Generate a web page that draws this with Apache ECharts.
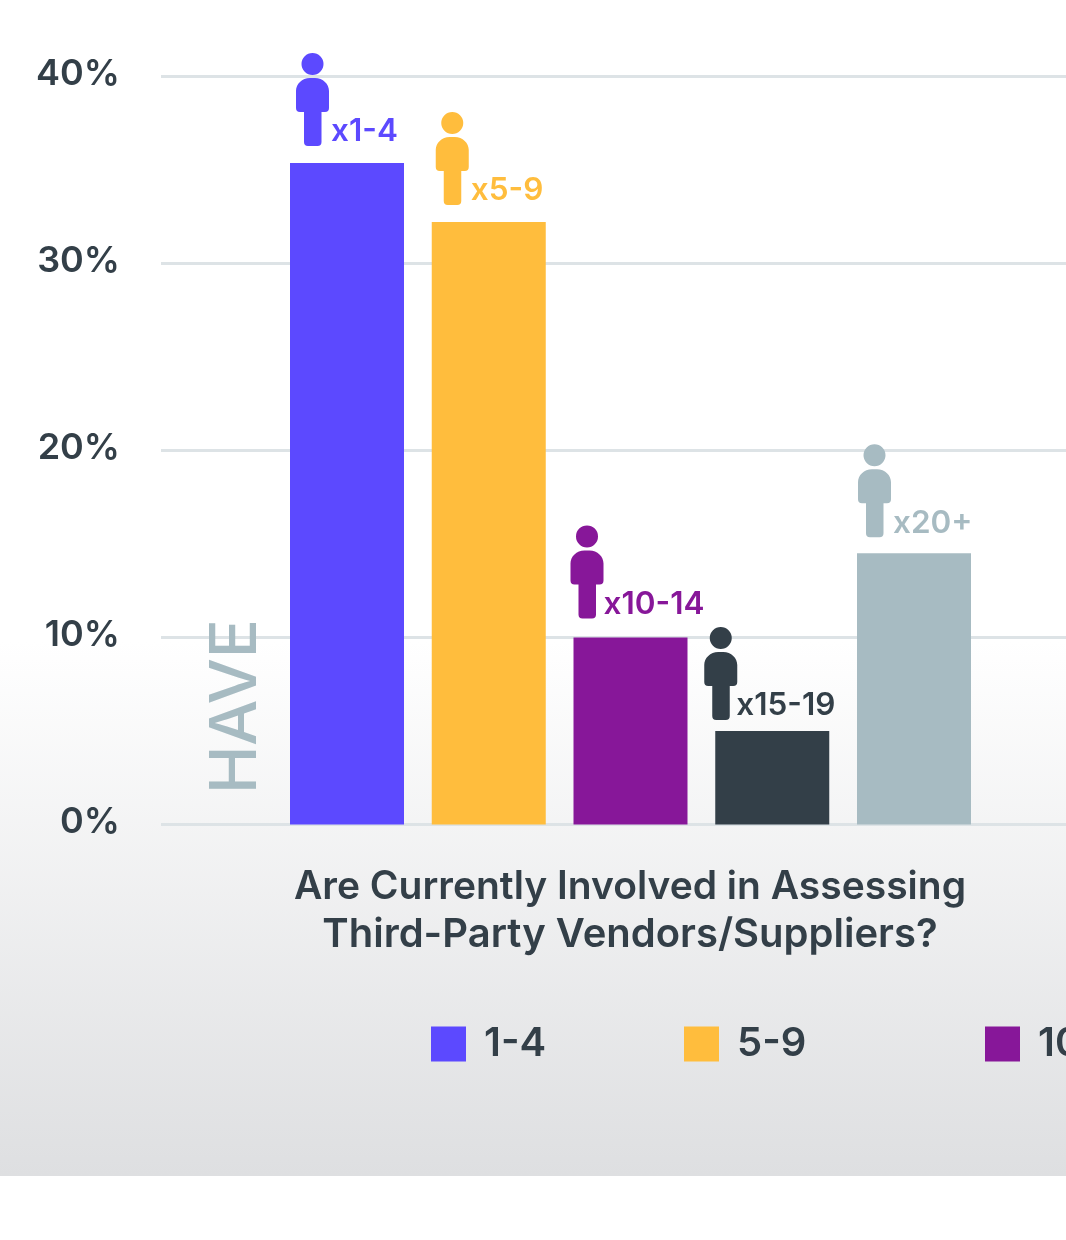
<!DOCTYPE html>
<html><head><meta charset="utf-8">
<style>html,body{margin:0;padding:0;background:#fff}#c{width:1066px;height:1240px}</style>
<script src="https://cdn.jsdelivr.net/npm/echarts@6/dist/echarts.min.js"></script>
</head><body><div id="c"></div>
<script>
const categories = ['1-4', '5-9', '10-14', '15-19', '20+'];
const values = [35.35, 32.2, 10, 5, 14.5];
const iconLabels = ['x1-4', 'x5-9', 'x10-14', 'x15-19', 'x20+'];
const yTicks = [0, 10, 20, 30, 40];
const titleLines = ['Are Currently Involved in Assessing', 'Third-Party Vendors/Suppliers?'];
const rowLabel = 'HAVE';

const colors = ['#5c49ff', '#ffbd3d', '#871799', '#333f48', '#a7bbc2'];
const iconShift = [-34.5, -36.5, -43.5, -51.5, -39.5];
const iconLift = [-63.5, -63.5, -65.5, -57.5, -62.5];
const labelX = [35, 35, 33, 32, 35];
const INK = '#333f48';
const FONT = 'Inter, "Liberation Sans", sans-serif';
const person = 'path://M16.5 0A11 11 0 1 1 16.5 22A11 11 0 1 1 16.5 0Z' +
  'M14 25H19C27 25 33 31 33 38V55Q33 59 29 59H25.5V89Q25.5 93 21.5 93H12Q8 93 8 89V59H4Q0 59 0 55V38C0 31 6 25 14 25Z';

const chart = echarts.init(document.getElementById('c'), null, {renderer: 'canvas'});
const band = 141.75, xMin = 1 - (347 - 161) / band, xMax = xMin + (1066 - 161) / band;

const legendAt = [[0, 431], [1, 684], [2, 985]];
chart.setOption({
  animation: false,
  grid: {left: 161, right: 0, top: 76, bottom: 415.5, containLabel: false},
  xAxis: {type: 'value', min: xMin, max: xMax, show: false, splitLine: {show: false}},
  yAxis: {
    type: 'value', min: yTicks[0], max: yTicks[yTicks.length - 1], interval: 10,
    axisLine: {show: false}, axisTick: {show: false},
    axisLabel: {formatter: '{value}%', color: INK, fontFamily: FONT, fontSize: 36, fontWeight: 600, margin: 41, verticalAlign: 'bottom', lineHeight: 4},
    splitLine: {lineStyle: {color: '#dde3e6', width: 3}}
  },
  legend: legendAt.map(([i, left]) => ({
    data: [categories[i]], left, top: 1024, padding: 0, orient: 'horizontal', selectedMode: false,
    icon: 'rect', itemWidth: 35, itemHeight: 35,
    textStyle: {color: INK, fontFamily: FONT, fontSize: 40, fontWeight: 600, padding: [0, 0, 0, 13]}
  })),
  title: {
    text: '{a|' + titleLines[0] + '}\n{b|' + titleLines[1] + '}', left: 630, top: 863, padding: 0, textAlign: 'center',
    textStyle: {
      color: INK, fontFamily: FONT, fontSize: 39, fontWeight: 600, lineHeight: 48,
      rich: {
        a: {color: INK, fontFamily: FONT, fontSize: 39, fontWeight: 600, lineHeight: 48},
        b: {color: INK, fontFamily: FONT, fontSize: 40, fontWeight: 600, lineHeight: 48}
      }
    }
  },
  graphic: [
    {type: 'rect', z: -10, silent: true, shape: {x: 0, y: 0, width: 1066, height: 1176},
      style: {fill: new echarts.graphic.LinearGradient(0, 0, 0, 1, [
        {offset: 0, color: '#ffffff'}, {offset: 0.545, color: '#ffffff'}, {offset: 1, color: '#dedfe1'}])}},
    {type: 'text', z: 10, silent: true, x: 236.5, y: 706.5, rotation: Math.PI / 2,
      style: {text: rowLabel, fill: '#a7bbc2', font: '500 65px Inter, sans-serif', textAlign: 'center', textVerticalAlign: 'middle'}}
  ],
  series: categories.map((name, i) => ({
    type: 'bar', name, barWidth: 114, barGap: '-100%',
    itemStyle: {color: colors[i]},
    data: [[i + 1, values[i]]],
    markPoint: {
      silent: true, symbol: person, symbolSize: [33, 93], symbolKeepAspect: false,
      symbolOffset: [iconShift[i], iconLift[i]],
      itemStyle: {color: colors[i]},
      label: {show: true, formatter: iconLabels[i], position: [labelX[i], 63], color: colors[i], fontFamily: FONT, fontSize: 31.5, fontWeight: 600},
      data: [{coord: [i + 1, values[i]]}]
    }
  }))
});
</script></body></html>
